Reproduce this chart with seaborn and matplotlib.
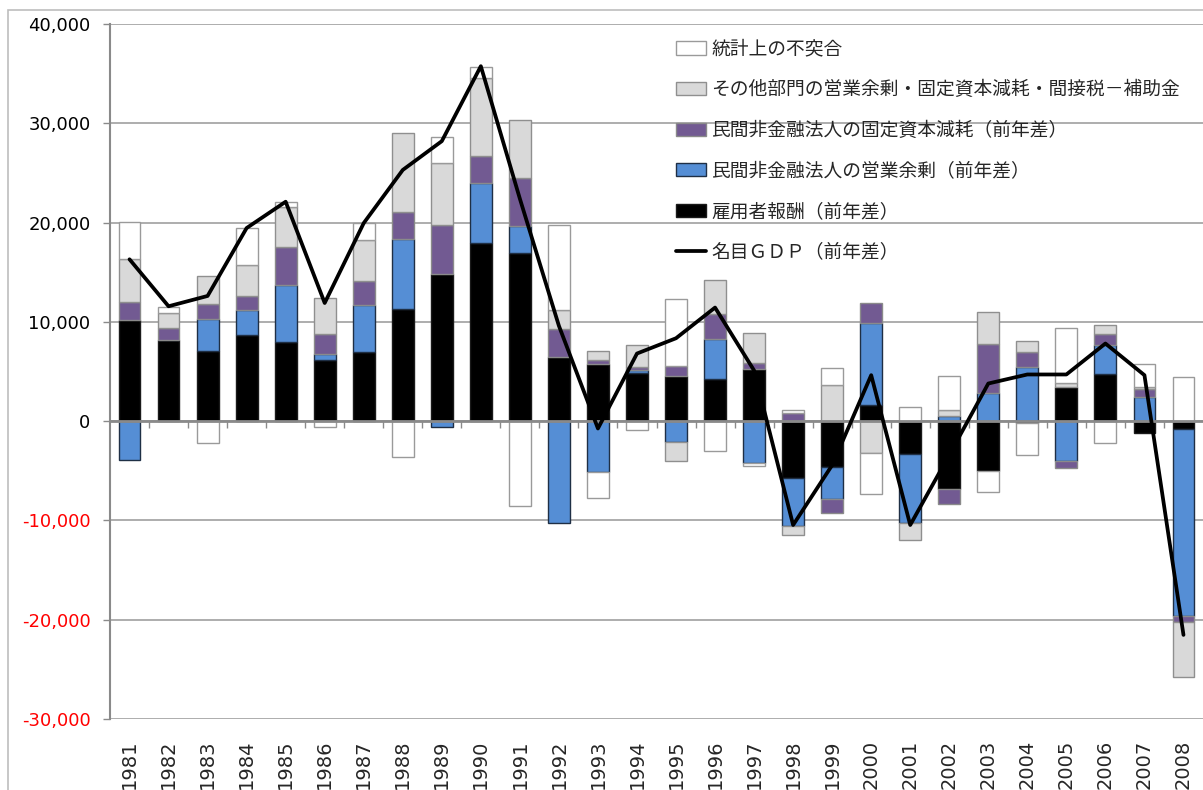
import numpy as np
import pandas as pd
import matplotlib
matplotlib.use("Agg")
import matplotlib.pyplot as plt
from matplotlib.patches import Rectangle
import seaborn as sns

# data (yen 10 mil units / year-on-year change)
years = ["1981", "1982", "1983", "1984", "1985", "1986", "1987", "1988", "1989", "1990",
         "1991", "1992", "1993", "1994", "1995", "1996", "1997", "1998", "1999", "2000",
         "2001", "2002", "2003", "2004", "2005", "2006", "2007", "2008"]
compensation = [10230, 8220, 7070, 8680, 7950, 6200, 6970, 11330, 14790, 17980,
                16970, 6470, 5730, 4860, 4500, 4230, 5260, -5700, -4590, 1610,
                -3320, -6840, -5000, -200, 3450, 4700, -1170, -840]
op_surplus = [-3920, 0, 3260, 2560, 5730, 540, 4770, 6980, -570, 5990,
              2680, -10230, -5100, 270, -2150, 4020, -4260, -4860, -3290, 8280,
              -6910, 540, 2850, 5470, -4020, 2950, 2450, -18780]
depreciation = [1740, 1170, 1510, 1410, 3890, 2080, 2340, 2720, 5000, 2720,
                4870, 2790, 410, 340, 1050, 2580, 640, 770, -1340, 2010,
                0, -1510, 4870, 1500, -740, 1170, 740, -570]
other_sectors = [4360, 1510, 2750, 3040, 3990, 3550, 4160, 7970, 6230, 7880,
                 5860, 1980, 900, 2180, -1870, 3420, 2990, -910, 3620, -3250,
                 -1740, 630, 3280, 1080, 400, 910, 200, -5630]
discrepancy = [3760, 640, -2180, 3760, 500, -570, 1710, -3650, 2620, 1140,
               -8550, 8550, -2650, -900, 6790, -3050, -270, 400, 1780, -4130,
               1440, 3360, -2110, -3220, 5540, -2180, 2410, 4400]
nominal_gdp = [16300, 11570, 12610, 19450, 22100, 11900, 19950, 25300, 28200, 35750,
               22400, 9600, -740, 6810, 8350, 11440, 5100, -10460, -4430, 4630,
               -10460, -3400, 3790, 4700, 4700, 7820, 4630, -21530]

series_names = ["雇用者報酬（前年差）", "民間非金融法人の営業余剰（前年差）",
                "民間非金融法人の固定資本減耗（前年差）",
                "その他部門の営業余剰・固定資本減耗・間接税－補助金", "統計上の不突合"]
line_name = "名目ＧＤＰ（前年差）"
face_colors = ["#000000", "#558ed5", "#725a92", "#d9d9d9", "#ffffff"]
edge_colors = ["#1a1a1a", "#1f2f45", "#8a8a8a", "#8f8f8f", "#9a9a9a"]

df = pd.DataFrame({
    series_names[0]: compensation,
    series_names[1]: op_surplus,
    series_names[2]: depreciation,
    series_names[3]: other_sectors,
    series_names[4]: discrepancy,
}, index=years)

sns.set_style("white")
cjk = ["Noto Sans CJK JP", "DejaVu Sans"]

W, H = 1203, 790
fig = plt.figure(figsize=(W / 100, H / 100), dpi=100)
ax = fig.add_axes([110 / W, 1 - 719 / H, 1 - 110 / W, (719 - 24) / H])

x = np.arange(len(years))
pos_base = np.zeros(len(years))
neg_base = np.zeros(len(years))
handles = []
for name, fc, ec in zip(series_names, face_colors, edge_colors):
    vals = df[name].to_numpy(dtype=float)
    base = np.where(vals >= 0, pos_base, neg_base)
    bars = ax.bar(x, vals, bottom=base, width=0.56, color=fc, edgecolor=ec,
                  linewidth=1.0, label=name, zorder=2)
    handles.append(bars)
    pos_base += np.clip(vals, 0, None)
    neg_base += np.clip(vals, None, 0)

sns.lineplot(x=x, y=nominal_gdp, color="black", linewidth=2.7, ax=ax,
             label=line_name, zorder=4, legend=False)
line_handle = ax.lines[-1]

# y axis
ax.set_xlim(-0.5, len(years) - 0.5)
ax.set_ylim(-30000, 40000)
yt = [-30000, -20000, -10000, 0, 10000, 20000, 30000, 40000]
ax.set_yticks(yt, labels=[f"{v:,}" for v in yt])
for lab, v in zip(ax.get_yticklabels(), yt):
    lab.set_color("red" if v < 0 else "black")
    lab.set_fontfamily("DejaVu Sans")
    lab.set_fontsize(13)
ax.yaxis.grid(True, color="#a0a0a0", linewidth=1.2)
ax.set_axisbelow(True)
ax.tick_params(axis="y", left=True, length=5, width=1, color="#8a8a8a", pad=9)

# x axis: line at zero with ticks between categories, year labels at the bottom
ax.spines["bottom"].set_position(("data", 0))
ax.spines["bottom"].set_color("#8a8a8a")
ax.spines["bottom"].set_linewidth(2)
ax.spines["bottom"].set_zorder(3)
ax.set_xticks(x[:-1] + 0.5)
ax.tick_params(axis="x", bottom=True, length=5, width=1, color="#8a8a8a",
               direction="out", labelbottom=False)
ax.spines["left"].set_color("#8a8a8a")
ax.spines["left"].set_linewidth(1.5)
ax.spines["top"].set_visible(False)
ax.spines["right"].set_visible(False)

sec = ax.secondary_xaxis(0)
sec.set_xticks(x, labels=years)
sec.tick_params(length=0, pad=15)
sec.spines["bottom"].set_visible(False)
for lab in sec.get_xticklabels():
    lab.set_rotation(90)
    lab.set_fontfamily("DejaVu Sans")
    lab.set_fontsize(14)

# legend (top entry = last stacked series)
leg = ax.legend(handles[::-1] + [line_handle], series_names[::-1] + [line_name],
                loc="upper left", bbox_to_anchor=(676 / W, 1 - 38.5 / H),
                bbox_transform=fig.transFigure, frameon=False,
                prop={"family": cjk, "size": 13.5}, labelspacing=1.045,
                handlelength=1.6, handleheight=0.7, handletextpad=0.27,
                borderpad=0, borderaxespad=0)
leg.set_zorder(5)

# chart border
fig.add_artist(Rectangle((8 / W, -0.1), 1.2, 1 - 10 / H + 0.1, fill=False,
                         edgecolor="#bdbdbd", linewidth=1.2,
                         transform=fig.transFigure))

fig.savefig("out.png", dpi=100)
